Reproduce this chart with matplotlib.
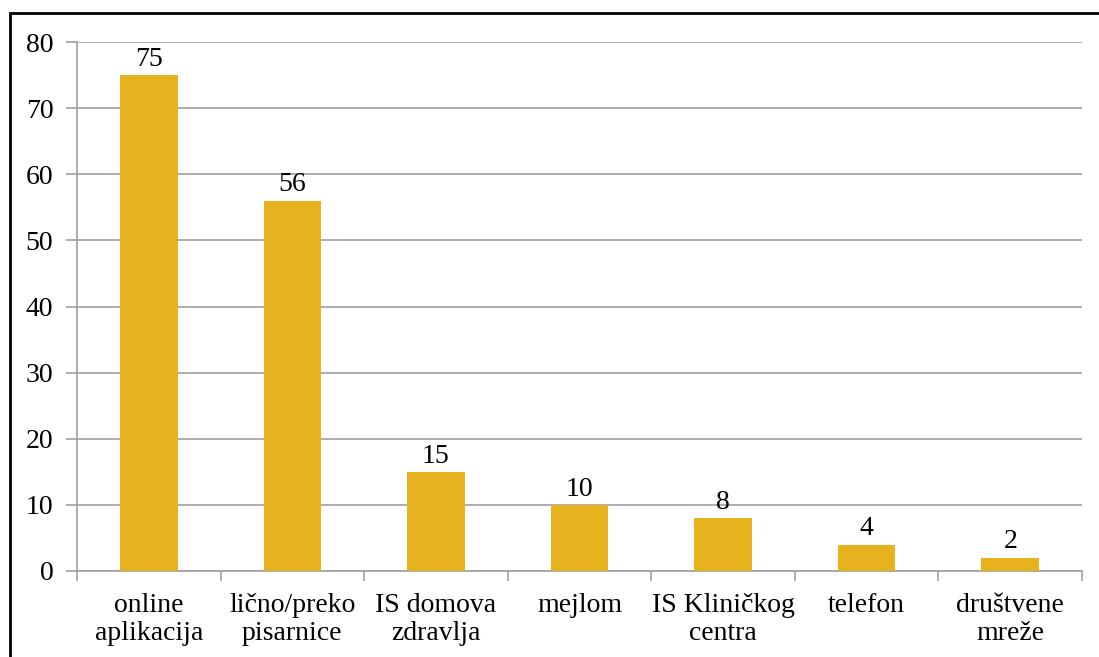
import matplotlib.pyplot as plt
from matplotlib.patches import Rectangle

categories = ["online\naplikacija", "lično/preko\npisarnice", "IS domova\nzdravlja",
              "mejlom", "IS Kliničkog\ncentra", "telefon", "društvene\nmreže"]
values = [75, 56, 15, 10, 8, 4, 2]

plt.rcParams['font.family'] = ['Liberation Serif', 'DejaVu Serif']

fig = plt.figure(figsize=(10.99, 6.57), dpi=100)
ax = fig.add_axes([77 / 1099, 1 - 571 / 657, (1082 - 77) / 1099, (571 - 42) / 657])

x = range(len(values))
bars = ax.bar(x, values, width=0.4, color='#E6B31E', zorder=3)
for xi, v in zip(x, values):
    ax.text(xi, v + 0.5, str(v), ha='center', va='bottom', fontsize=20)

ax.set_xlim(-0.5, len(values) - 0.5)
ax.set_ylim(0, 80)
ax.set_yticks(range(0, 81, 10))
ax.tick_params(axis='y', labelsize=20, length=8, color='#A0A0A0', width=1.2, pad=9)
ax.yaxis.grid(True, color='#A0A0A0', linewidth=1.2, zorder=0)

ax.set_xticks(x)
ax.set_xticklabels(categories, fontsize=20, linespacing=1.15)
ax.tick_params(axis='x', length=0, pad=16)
ax.set_xticks([i - 0.5 for i in range(len(values) + 1)], minor=True)
ax.tick_params(axis='x', which='minor', length=7, color='#A0A0A0', width=1.2)

for side in ['top', 'right']:
    ax.spines[side].set_visible(False)
for side in ['left', 'bottom']:
    ax.spines[side].set_color('#A0A0A0')
    ax.spines[side].set_linewidth(1.2)

fig.patches.append(Rectangle((10 / 1099, -0.05), 1.1, 1 - 13 / 657 + 0.05,
                             transform=fig.transFigure, fill=False,
                             edgecolor='black', linewidth=2))

fig.savefig('out.png', dpi=100)
